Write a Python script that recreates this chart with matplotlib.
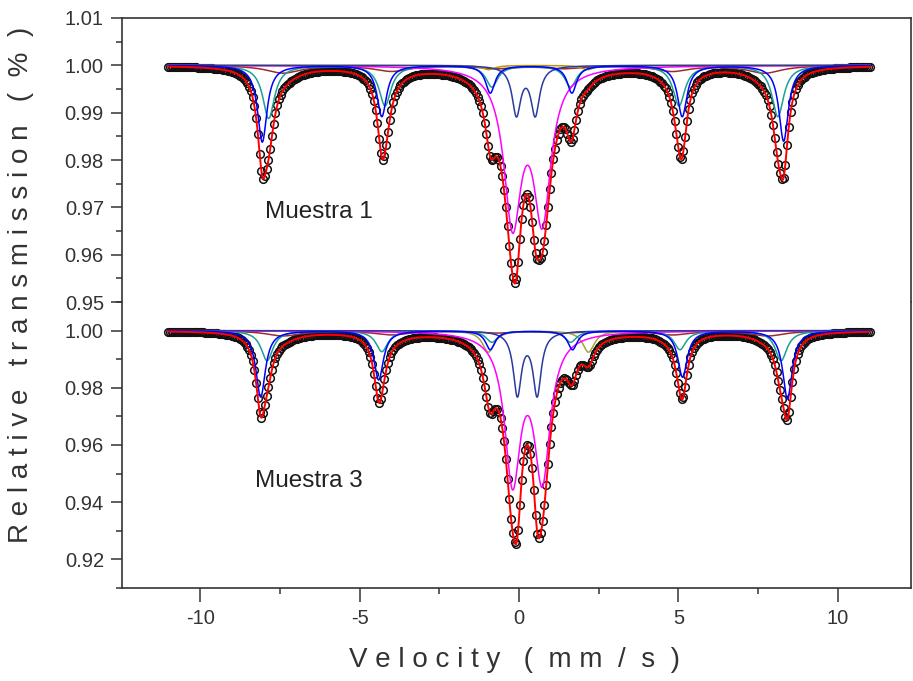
"""
Mossbauer spectra of Muestra 1 and Muestra 3 with fitted subspectra
"""

import numpy as np
import matplotlib.pyplot as plt
from matplotlib.ticker import MultipleLocator, FormatStrFormatter

plt.rcParams["font.family"] = ["Liberation Sans", "DejaVu Sans"]
plt.rcParams["axes.unicode_minus"] = False

# velocity channels (mm/s)
velocity = np.linspace(-11.0, 11.0, 400)

# Muestra 1 : line positions (mm/s), depths, FWHM (mm/s) of each subspectrum
m1_blue_pos = [-8.05, -4.3, -0.9, 1.66, 5.12, 8.3]
m1_blue_depth = [0.0162, 0.0108, 0.0058, 0.0058, 0.0108, 0.0160]
m1_blue_fwhm = 0.36
m1_teal_pos = [-7.85, -4.2, -0.85, 1.62, 5.02, 8.12]
m1_teal_depth = [0.0112, 0.0085, 0.0045, 0.0045, 0.0085, 0.0108]
m1_teal_fwhm = 0.45
m1_brown_pos = [-7.4, -4.0, -0.7, 1.4, 4.8, 7.7]
m1_brown_depth = [0.0016, 0.0012, 0.0006, 0.0006, 0.0012, 0.0016]
m1_brown_fwhm = 1.3
m1_magenta_pos = [-0.2, 0.73]
m1_magenta_depth = [0.032, 0.031]
m1_magenta_fwhm = 0.66
m1_navy_pos = [-0.08, 0.51]
m1_navy_depth = [0.0102, 0.0102]
m1_navy_fwhm = 0.33
m1_olive_pos = [-0.95, 2.15]
m1_olive_depth = [0.0009, 0.0009]
m1_olive_fwhm = 0.5

# Muestra 3
m3_blue_pos = [-8.1, -4.4, -0.9, 1.68, 5.13, 8.42]
m3_blue_depth = [0.0232, 0.0172, 0.0066, 0.0066, 0.0162, 0.0238]
m3_blue_fwhm = 0.36
m3_teal_pos = [-7.9, -4.3, -0.85, 1.62, 5.05, 8.22]
m3_teal_depth = [0.0105, 0.0073, 0.0040, 0.0040, 0.0066, 0.0105]
m3_teal_fwhm = 0.45
m3_brown_pos = [-7.4, -4.0, -0.7, 1.4, 4.8, 7.8]
m3_brown_depth = [0.0018, 0.0014, 0.0007, 0.0007, 0.0014, 0.0018]
m3_brown_fwhm = 1.3
m3_magenta_pos = [-0.2, 0.73]
m3_magenta_depth = [0.051, 0.050]
m3_magenta_fwhm = 0.60
m3_navy_pos = [-0.05, 0.57]
m3_navy_depth = [0.022, 0.022]
m3_navy_fwhm = 0.31
m3_olive_pos = [-0.96, 2.18]
m3_olive_depth = [0.0075, 0.0075]
m3_olive_fwhm = 0.45

sample_names = ["Muestra 1", "Muestra 3"]


def absorption(v, positions, depths, fwhm):
    a = np.zeros_like(v)
    for p, d in zip(positions, depths):
        a += d / (1 + ((v - p) / (fwhm / 2)) ** 2)
    return a


def draw_panel(ax, comps):
    vfine = np.linspace(-11.0, 11.0, 1500)
    total_fine = np.ones_like(vfine)
    total_pts = np.ones_like(velocity)
    for pos, depth, fwhm, color in comps:
        total_fine -= absorption(vfine, pos, depth, fwhm)
        total_pts -= absorption(velocity, pos, depth, fwhm)

    ax.plot(velocity, total_pts, "o", ms=5.5, mfc="none", mec="#111111",
            mew=1.1, zorder=2)
    for pos, depth, fwhm, color in comps:
        ax.plot(vfine, 1 - absorption(vfine, pos, depth, fwhm),
                color=color, lw=1.1, zorder=3)
    ax.plot(vfine, total_fine, color="#ff0000", lw=1.4, zorder=4)


fig = plt.figure(figsize=(9.13, 6.81), dpi=100)
left, right = 0.1336, 0.998
ax1 = fig.add_axes([left, 0.5565, right - left, 0.9736 - 0.5565])
ax2 = fig.add_axes([left, 0.1366, right - left, 0.5565 - 0.1366])

comps1 = [
    (m1_brown_pos, m1_brown_depth, m1_brown_fwhm, "#9b2d2d"),
    (m1_olive_pos, m1_olive_depth, m1_olive_fwhm, "#b8960c"),
    (m1_teal_pos, m1_teal_depth, m1_teal_fwhm, "#1f9e94"),
    (m1_magenta_pos, m1_magenta_depth, m1_magenta_fwhm, "#ff00ff"),
    (m1_navy_pos, m1_navy_depth, m1_navy_fwhm, "#2b3a9e"),
    (m1_blue_pos, m1_blue_depth, m1_blue_fwhm, "#0000ff"),
]
comps3 = [
    (m3_brown_pos, m3_brown_depth, m3_brown_fwhm, "#9b2d2d"),
    (m3_olive_pos, m3_olive_depth, m3_olive_fwhm, "#a5a33a"),
    (m3_teal_pos, m3_teal_depth, m3_teal_fwhm, "#1f9e94"),
    (m3_magenta_pos, m3_magenta_depth, m3_magenta_fwhm, "#ff00ff"),
    (m3_navy_pos, m3_navy_depth, m3_navy_fwhm, "#2b3a9e"),
    (m3_blue_pos, m3_blue_depth, m3_blue_fwhm, "#0000ff"),
]

draw_panel(ax1, comps1)
draw_panel(ax2, comps3)

for ax in (ax1, ax2):
    ax.set_xlim(-12.45, 12.3)
    for s in ax.spines.values():
        s.set_linewidth(1.2)
        s.set_color("#333333")
    ax.tick_params(axis="both", which="major", direction="out", length=8,
                   width=1.1, labelsize=14.5, colors="#333333", pad=5)
    ax.tick_params(axis="both", which="minor", direction="out", length=4.5,
                   width=1.1, colors="#333333")
    ax.yaxis.set_major_formatter(FormatStrFormatter("%.2f"))

ax1.set_ylim(0.95, 1.01)
ax1.yaxis.set_major_locator(MultipleLocator(0.01))
ax1.yaxis.set_minor_locator(MultipleLocator(0.005))
ax1.spines["bottom"].set_visible(False)
ax1.tick_params(axis="x", which="both", bottom=False, labelbottom=False)
ax1.tick_params(axis="y", which="both", right=False)

ax2.set_ylim(0.91, 1.01)
ax2.yaxis.set_major_locator(MultipleLocator(0.02))
ax2.yaxis.set_minor_locator(MultipleLocator(0.01))
ax2.xaxis.set_major_locator(MultipleLocator(5))
ax2.xaxis.set_minor_locator(MultipleLocator(2.5))
ax2.spines["top"].set_visible(False)
ax2.tick_params(axis="x", which="major", length=10)
ax2.tick_params(axis="both", which="both", top=False, right=False)

ax1.text(-7.95, 0.969, sample_names[0], fontsize=17.5, va="center",
         color="#222222")
ax2.text(-8.27, 0.9474, sample_names[1], fontsize=17.5, va="center",
         color="#222222")

fig.text(0.023, 0.5815, "R e l a t i v e   t r a n s m i s s i o n   (  %  )",
         rotation=90, ha="center", va="center", fontsize=20, color="#333333")
fig.text(0.563, 0.031, "V e l o c i t y   (  m m  /  s  )",
         ha="center", va="center", fontsize=20, color="#333333")

plt.savefig("out.png", dpi=100)
